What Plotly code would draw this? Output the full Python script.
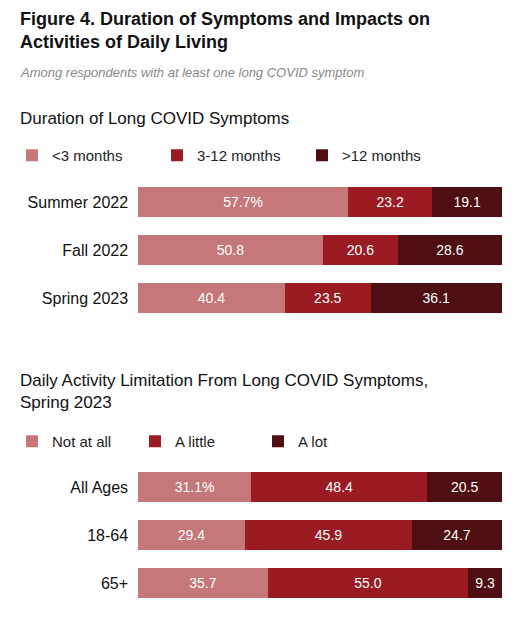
import plotly.graph_objects as go

# Duration of long COVID symptoms
periods = ["Summer 2022", "Fall 2022", "Spring 2023"]
dur_labels = ["<3 months", "3-12 months", ">12 months"]
dur_values = [
    [57.7, 50.8, 40.4],
    [23.2, 20.6, 23.5],
    [19.1, 28.6, 36.1],
]

# Daily activity limitation, Spring 2023
ages = ["All Ages", "18-64", "65+"]
lim_labels = ["Not at all", "A little", "A lot"]
lim_values = [
    [31.1, 29.4, 35.7],
    [48.4, 45.9, 55.0],
    [20.5, 24.7, 9.3],
]

colors = ["#c5777a", "#9b1b22", "#4e0e12"]
FONT = "Liberation Sans"
W, H = 524, 635
OX, OY = 8, 9  # page offset of the plot


def px(x):
    return (x - OX) / W


def py(y):
    return 1 - (y - OY) / H


fig = go.Figure()


def add_group(cats, labels, values, xa, ya, legend):
    for i, (lab, vals) in enumerate(zip(labels, values)):
        txt = [f"{v:.1f}" for v in vals]
        if i == 0:
            txt[0] = txt[0] + "%"
        fig.add_trace(go.Bar(
            y=cats, x=vals, name=lab, orientation="h",
            marker=dict(color=colors[i], line=dict(width=0)),
            text=txt, textposition="inside", insidetextanchor="middle",
            textfont=dict(color="white", size=14, family=FONT),
            xaxis=xa, yaxis=ya, legend=legend, hoverinfo="skip",
        ))


add_group(periods, dur_labels, dur_values, "x", "y", "legend")
add_group(ages, lim_labels, lim_values, "x2", "y2", "legend2")

xdom = [px(138), px(502)]
axis_x = dict(range=[0, 100], visible=False, domain=xdom, fixedrange=True)
axis_y = dict(autorange="reversed", showgrid=False, zeroline=False, showline=False,
              ticks="", tickfont=dict(size=16, family=FONT, color="#111"),
              ticksuffix="  ")

fig.update_layout(
    width=W, height=H,
    margin=dict(l=0, r=0, t=0, b=0),
    plot_bgcolor="white", paper_bgcolor="white",
    barmode="stack", bargap=0.375,
    showlegend=True,
    xaxis=dict(axis_x, anchor="y"),
    yaxis=dict(axis_y, domain=[py(323), py(179)], anchor="x"),
    xaxis2=dict(axis_x, anchor="y2"),
    yaxis2=dict(axis_y, domain=[py(608), py(464)], anchor="x2"),
    legend=dict(orientation="h", x=px(12), y=py(140), xanchor="left", yanchor="top",
                entrywidth=100, entrywidthmode="pixels", traceorder="normal",
                font=dict(size=15, family=FONT, color="#222"), itemsizing="constant"),
    legend2=dict(orientation="h", x=px(12), y=py(426), xanchor="left", yanchor="top",
                 entrywidth=78, entrywidthmode="pixels", traceorder="normal",
                 font=dict(size=15, family=FONT, color="#222"), itemsizing="constant"),
    annotations=[
        dict(text="<b>Figure 4. Duration of Symptoms and Impacts on<br>Activities of Daily Living</b>",
             x=px(18), y=py(8), xref="paper", yref="paper", xanchor="left", yanchor="top",
             align="left", showarrow=False, font=dict(size=18, family=FONT, color="#111")),
        dict(text="<i>Among respondents with at least one long COVID symptom</i>",
             x=px(18), y=py(64), xref="paper", yref="paper", xanchor="left", yanchor="top",
             align="left", showarrow=False, font=dict(size=13, family=FONT, color="#888")),
        dict(text="Duration of Long COVID Symptoms",
             x=px(18), y=py(108), xref="paper", yref="paper", xanchor="left", yanchor="top",
             align="left", showarrow=False, font=dict(size=17, family=FONT, color="#111")),
        dict(text="Daily Activity Limitation From Long COVID Symptoms,<br>Spring 2023",
             x=px(18), y=py(370), xref="paper", yref="paper", xanchor="left", yanchor="top",
             align="left", showarrow=False, font=dict(size=17, family=FONT, color="#111")),
    ],
)

fig.write_html("out.html")
